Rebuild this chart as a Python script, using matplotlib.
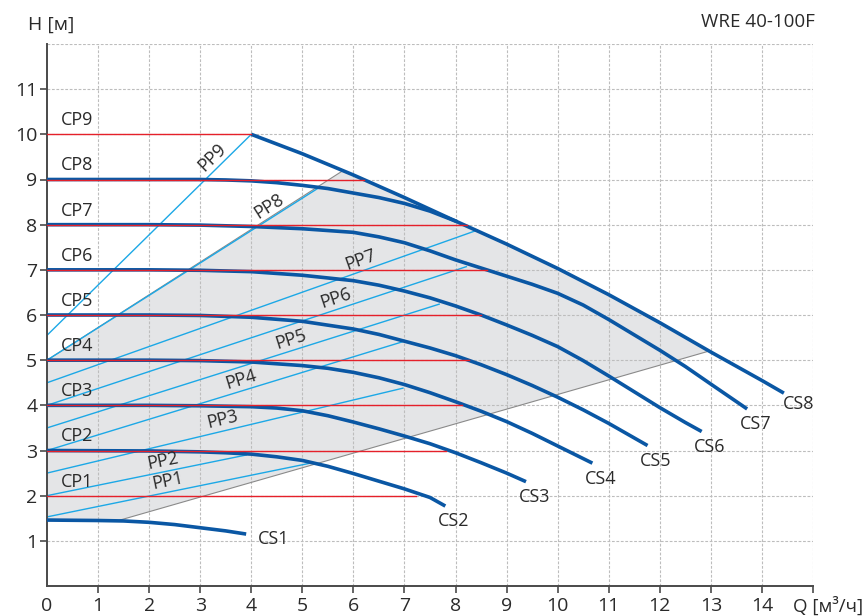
import matplotlib
matplotlib.use('Agg')
import matplotlib.pyplot as plt
import numpy as np

plt.rcParams['font.family'] = ['Open Sans', 'DejaVu Sans']

# constant speed curves CS1..CS7 (Q in m3/h, H in m)
cs_q = [
    [0, 1, 1.5, 2, 2.5, 3, 3.5, 3.9],
    [0, 2, 3, 3.5, 4, 4.5, 5, 5.5, 6, 6.5, 7, 7.5, 7.8],
    [0, 2, 3, 4, 4.5, 5, 5.5, 6, 6.5, 7, 7.5, 8, 8.5, 9, 9.38],
    [0, 2, 3, 4, 5, 5.5, 6, 6.5, 7, 7.5, 8, 8.5, 9, 9.5, 10, 10.68],
    [0, 2, 3, 4, 5, 6, 6.5, 7, 7.5, 8, 8.5, 9, 9.5, 10, 10.5, 11, 11.76],
    [0, 2, 3, 4, 5, 6, 6.5, 7, 7.5, 8, 8.5, 9, 9.5, 10, 10.5, 11, 11.5, 12, 12.5, 12.82],
    [0, 2, 3, 4, 5, 6, 6.5, 7, 7.5, 8, 8.5, 9, 9.5, 10, 10.5, 11, 11.5, 12, 12.5, 13, 13.71],
]
cs_h = [
    [1.46, 1.45, 1.44, 1.41, 1.36, 1.29, 1.22, 1.15],
    [3.0, 2.99, 2.97, 2.95, 2.92, 2.86, 2.78, 2.65, 2.49, 2.32, 2.15, 1.96, 1.77],
    [4.0, 4.0, 3.99, 3.97, 3.94, 3.88, 3.77, 3.63, 3.48, 3.32, 3.15, 2.95, 2.73, 2.5, 2.31],
    [5.0, 5.0, 4.99, 4.96, 4.88, 4.82, 4.73, 4.61, 4.46, 4.28, 4.08, 3.87, 3.64, 3.38, 3.1, 2.72],
    [6.0, 6.0, 5.99, 5.95, 5.86, 5.69, 5.57, 5.42, 5.27, 5.1, 4.9, 4.68, 4.44, 4.18, 3.9, 3.6, 3.11],
    [7.0, 7.0, 6.99, 6.96, 6.88, 6.76, 6.66, 6.53, 6.38, 6.2, 6.0, 5.78, 5.55, 5.3, 4.99, 4.65, 4.3, 3.95, 3.62, 3.42],
    [8.0, 8.0, 7.99, 7.96, 7.91, 7.83, 7.73, 7.6, 7.42, 7.22, 7.04, 6.86, 6.68, 6.48, 6.22, 5.9, 5.56, 5.22, 4.86, 4.47, 3.92],
]
# CS8: top speed curve, runs into the max power line
cs8_q = [0, 2, 3, 3.5, 4, 4.5, 5, 5.5, 6, 6.5, 7, 7.5, 8]
cs8_h = [9.0, 9.0, 9.0, 8.99, 8.97, 8.93, 8.87, 8.8, 8.7, 8.6, 8.47, 8.3, 8.08]
max_q = [4, 5, 6, 7, 8, 9, 10, 11, 12, 13, 14, 14.43]
max_h = [10.0, 9.57, 9.1, 8.6, 8.08, 7.57, 7.03, 6.45, 5.83, 5.18, 4.55, 4.27]
cs_names = ['CS1', 'CS2', 'CS3', 'CS4', 'CS5', 'CS6', 'CS7', 'CS8']

# constant pressure CP1..CP9
cp_h = [2, 3, 4, 5, 6, 7, 8, 9, 10]
cp_qend = [7.23, 7.82, 8.13, 8.27, 8.5, 8.62, 8.23, 6.2, 4.0]
cp_names = ['CP1', 'CP2', 'CP3', 'CP4', 'CP5', 'CP6', 'CP7', 'CP8', 'CP9']

# proportional pressure PP1..PP9
pp_h0 = [1.53, 2.0, 2.5, 3.0, 3.5, 4.0, 4.5, 5.0, 5.55]
pp_qend = [5.2, 3.9, 6.97, 6.97, 7.68, 8.21, 8.43, 5.34, 4.0]
pp_hend = [2.73, 2.9, 4.38, 5.41, 6.24, 7.07, 7.88, 8.83, 10.0]
pp_names = ['PP1', 'PP2', 'PP3', 'PP4', 'PP5', 'PP6', 'PP7', 'PP8', 'PP9']
pp_label_q = [2.4, 2.31, 3.48, 3.87, 4.85, 5.73, 6.22, 4.46, 3.38]

# working area corners
area_low = [(0, 1.46), (1.4, 1.45), (12.96, 5.2)]
area_top = [(5.8, 9.2), (0, 5.0)]

DARK = '#0a57a4'
RED = '#e5202a'
LBLUE = '#1ca8e6'
TXT = '#2a2a2a'
FS = 13

fig = plt.figure(figsize=(8.65, 6.16), dpi=100)
ax = fig.add_axes([47/865, 30/616, 766/865, 542/616])
ax.set_xlim(0, 15)
ax.set_ylim(0, 12)

for y in range(1, 13):
    ax.axhline(y, color='#bdbdbd', lw=0.8, ls=(0, (2.5, 1.5)), zorder=0.6)
for x in range(1, 16):
    ax.axvline(x, color='#bdbdbd', lw=0.8, ls=(0, (2.5, 1.5)), zorder=0.6)

# grey working area
mq = np.array(max_q); mh = np.array(max_h)
sel = (mq > area_top[0][0]) & (mq < area_low[-1][0])
poly = list(area_low) + list(zip(mq[sel][::-1], mh[sel][::-1])) + list(area_top)
ax.fill([p[0] for p in poly], [p[1] for p in poly], color='#e4e5e7', lw=0, zorder=0.4)
ax.plot([area_low[1][0], area_low[2][0]], [area_low[1][1], area_low[2][1]], color='#8a8a8a', lw=0.8, zorder=1)
ax.plot([area_top[1][0], area_top[0][0]], [area_top[1][1], area_top[0][1]], color='#8a8a8a', lw=0.8, zorder=1)

# PP lines
for i in range(9):
    ax.plot([0, pp_qend[i]], [pp_h0[i], pp_hend[i]], color=LBLUE, lw=1.0, zorder=2)
    s = (pp_hend[i] - pp_h0[i]) / pp_qend[i]
    q = pp_label_q[i]
    h = pp_h0[i] + s*q
    p0 = ax.transData.transform((0, pp_h0[i]))
    p1 = ax.transData.transform((pp_qend[i], pp_hend[i]))
    ang = np.arctan2(p1[1]-p0[1], p1[0]-p0[0])
    d = 8
    ax.annotate(pp_names[i], (q, h), xytext=(-d*np.sin(ang), d*np.cos(ang)),
                textcoords='offset points', ha='center', va='center',
                rotation=np.degrees(ang), rotation_mode='anchor', fontsize=FS, color=TXT, zorder=5)

# CS curves
for i in range(7):
    ax.plot(cs_q[i], cs_h[i], color=DARK, lw=2.6, solid_capstyle='butt', zorder=3)
ax.plot(cs8_q, cs8_h, color=DARK, lw=2.6, zorder=3)
ax.plot(max_q, max_h, color=DARK, lw=2.6, solid_capstyle='butt', zorder=3)

# CP lines
for i in range(9):
    ax.plot([0, cp_qend[i]], [cp_h[i], cp_h[i]], color=RED, lw=1.0, zorder=4)
    ax.text(0.28, cp_h[i] + 0.31, cp_names[i], fontsize=FS, color=TXT, va='center', ha='left', zorder=5)

# CS labels at curve ends
ends = [(q[-1], h[-1]) for q, h in zip(cs_q, cs_h)] + [(max_q[-1], max_h[-1])]
for i, (q, h) in enumerate(ends):
    if i == 0:
        ax.text(q + 0.22, h - 0.12, cs_names[i], fontsize=FS, color=TXT, ha='left', va='center')
    elif i == 7:
        ax.text(q - 0.02, h - 0.25, cs_names[i], fontsize=FS, color=TXT, ha='left', va='center')
    else:
        ax.text(q + 0.16, h - 0.34, cs_names[i], fontsize=FS, color=TXT, ha='center', va='center')

for sp in ['top', 'right']:
    ax.spines[sp].set_visible(False)
for sp in ['left', 'bottom']:
    ax.spines[sp].set_color('#4a4a4a')
    ax.spines[sp].set_linewidth(1.4)

ax.set_xticks(range(16))
ax.set_xticklabels([str(i) for i in range(15)] + [''])
ax.set_yticks(range(1, 12))
ax.set_yticklabels([str(i) for i in range(1, 12)])
ax.tick_params(axis='both', length=5, width=1.2, color='#4a4a4a', labelsize=14, labelcolor=TXT)
ax.tick_params(axis='y', pad=2)
ax.tick_params(axis='x', pad=3)
ax.xaxis.get_major_ticks()[0].tick1line.set_visible(False)

fig.text(28/865, 1 - 25/616, 'H [м]', fontsize=14, color=TXT, ha='left', va='center')
fig.text(815/865, 1 - 22/616, 'WRE 40-100F', fontsize=13.5, color=TXT, ha='right', va='center')
fig.text(793/865, 1 - 606/616, 'Q [м³/ч]', fontsize=13.5, color=TXT, ha='left', va='center')

fig.savefig('out.png', dpi=100)
